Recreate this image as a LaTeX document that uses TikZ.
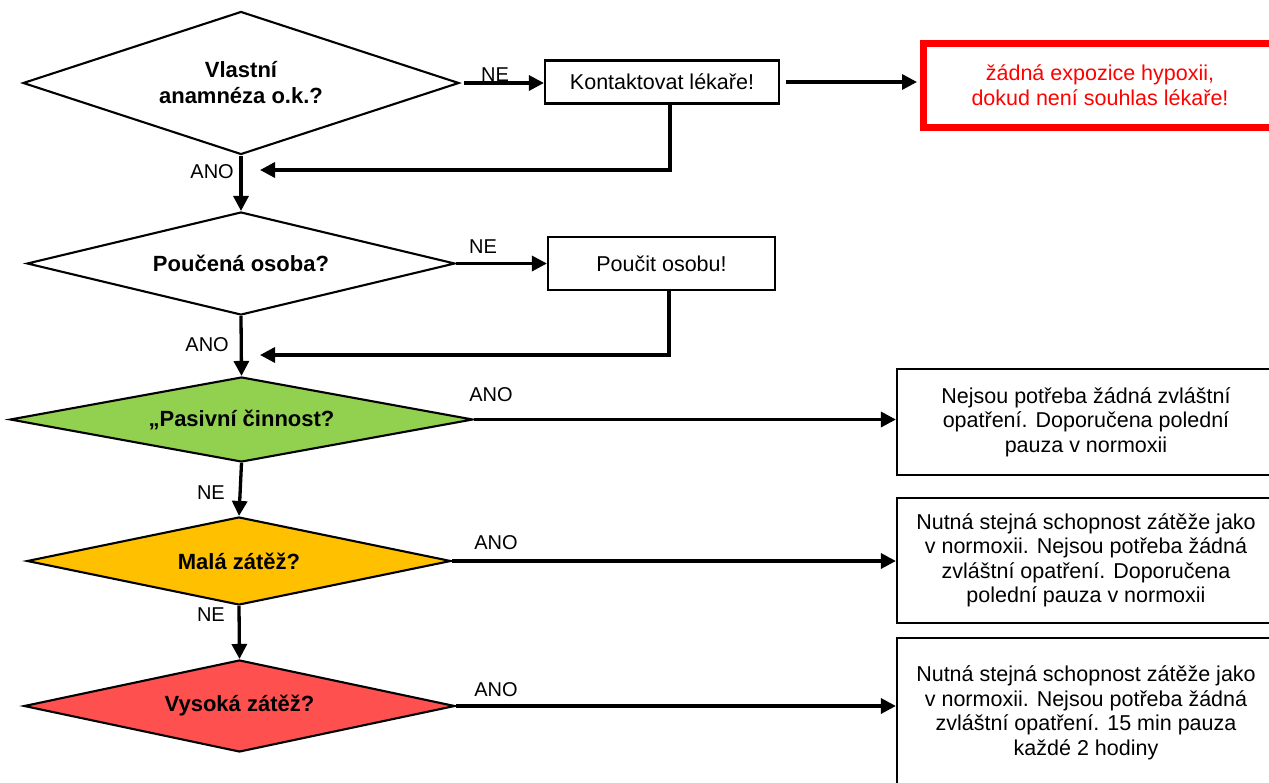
\documentclass[tikz,border=0pt]{standalone}
\usepackage{fontspec}
\setmainfont{Liberation Sans}
\usetikzlibrary{arrows.meta,shapes.geometric}
\definecolor{passivefill}{HTML}{92D050}
\definecolor{lightfill}{HTML}{FFC000}
\definecolor{heavyfill}{HTML}{FF5050}
\definecolor{alarm}{HTML}{FF0000}

\begin{document}
\begin{tikzpicture}[x=1pt,y=-1pt,
  question/.style={diamond, draw=black, line width=2.1pt, inner sep=0pt, aspect=3,
    font=\fontsize{22}{26}\selectfont\bfseries, align=center},
  actbox/.style={rectangle, draw=black, line width=2.2pt, inner sep=0pt,
    font=\fontsize{21.5}{24.5}\selectfont, align=center},
  flow/.style={line width=3.3pt, -{Triangle[length=15pt,width=15pt]}},
  lbl/.style={font=\fontsize{20}{24}\selectfont, inner sep=0pt},
]
\useasboundingbox (0,0) rectangle (1269,782);
\clip (0,0) rectangle (1269,782);

% decisions
\node[question, minimum width=436, minimum height=143] (q1) at (241,83) {Vlastní\\anamnéza o.k.?};
\node[question, minimum width=428, minimum height=103] (q2) at (241,263.5) {Poučená osoba?};
\node[question, fill=passivefill, minimum width=463, minimum height=85] (q3) at (241.5,419.5) {„Pasivní činnost?};
\node[question, fill=lightfill, minimum width=424, minimum height=88] (q4) at (239,561) {Malá zátěž?};
\node[question, fill=heavyfill, minimum width=431, minimum height=92] (q5) at (239.5,706) {Vysoká zátěž?};

% actions
\node[actbox, minimum width=234, minimum height=43] (k) at (662,82) {Kontaktovat lékaře!};
\node[actbox, draw=alarm, text=alarm, line width=7pt, minimum width=353, minimum height=84] (stop) at (1100,85)
  {žádná expozice hypoxii,\\dokud není souhlas lékaře!};
\node[actbox, minimum width=227, minimum height=53] (p) at (661.5,263.5) {Poučit osobu!};
\node[actbox, minimum width=378, minimum height=106] (b1) at (1086,422)
  {Nejsou potřeba žádná zvláštní\\opatření. Doporučena polední\\pauza v normoxii};
\node[actbox, minimum width=378, minimum height=125] (b2) at (1086,560.5)
  {Nutná stejná schopnost zátěže jako\\v normoxii. Nejsou potřeba žádná\\zvláštní opatření. Doporučena\\polední pauza v normoxii};
\node[actbox, minimum width=378, minimum height=150] (b3) at (1086,713)
  {Nutná stejná schopnost zátěže jako\\v normoxii. Nejsou potřeba žádná\\zvláštní opatření. 15 min pauza\\každé 2 hodiny};

% return points of the loops
\coordinate (back1) at (260,170);
\coordinate (back2) at (260,355);

% connectors
\draw[flow] ([xshift=4pt]q1.east) -- (q1.east -| k.west);
\draw[flow, shorten >=3pt] ([xshift=6pt]k.east) -- (k.east -| stop.west);
\draw[flow] ([xshift=8pt]k.south) |- (back1);
\draw[flow] (q1.south) -- (q2.north);
\draw[flow] (q2.east) -- (q2.east -| p.west);
\draw[flow] ([xshift=7.5pt]p.south) |- (back2);
\draw[flow] (q2.south) -- (q3.north);
\draw[flow] (q3.east) -- (q3.east -| b1.west);
\draw[flow] (q3.south) -- (q4.north);
\draw[flow] (q4.east) -- (q4.east -| b2.west);
\draw[flow] (q4.south) -- (q5.north);
\draw[flow] (q5.east) -- (q5.east -| b3.west);

% branch labels
\node[lbl] (ne1) at (495,75) {NE};
\node[lbl, anchor=east] (ano1) at (234,172) {ANO};
\node[lbl] (ne2) at (483,247) {NE};
\node[lbl, anchor=east] (ano2) at (229,345) {ANO};
\node[lbl] (ano3) at (491,395) {ANO};
\node[lbl, anchor=east] (ne3) at (225,493) {NE};
\node[lbl] (ano4) at (496,543) {ANO};
\node[lbl, anchor=east] (ne4) at (225,615) {NE};
\node[lbl] (ano5) at (496,690) {ANO};
\end{tikzpicture}
\end{document}
